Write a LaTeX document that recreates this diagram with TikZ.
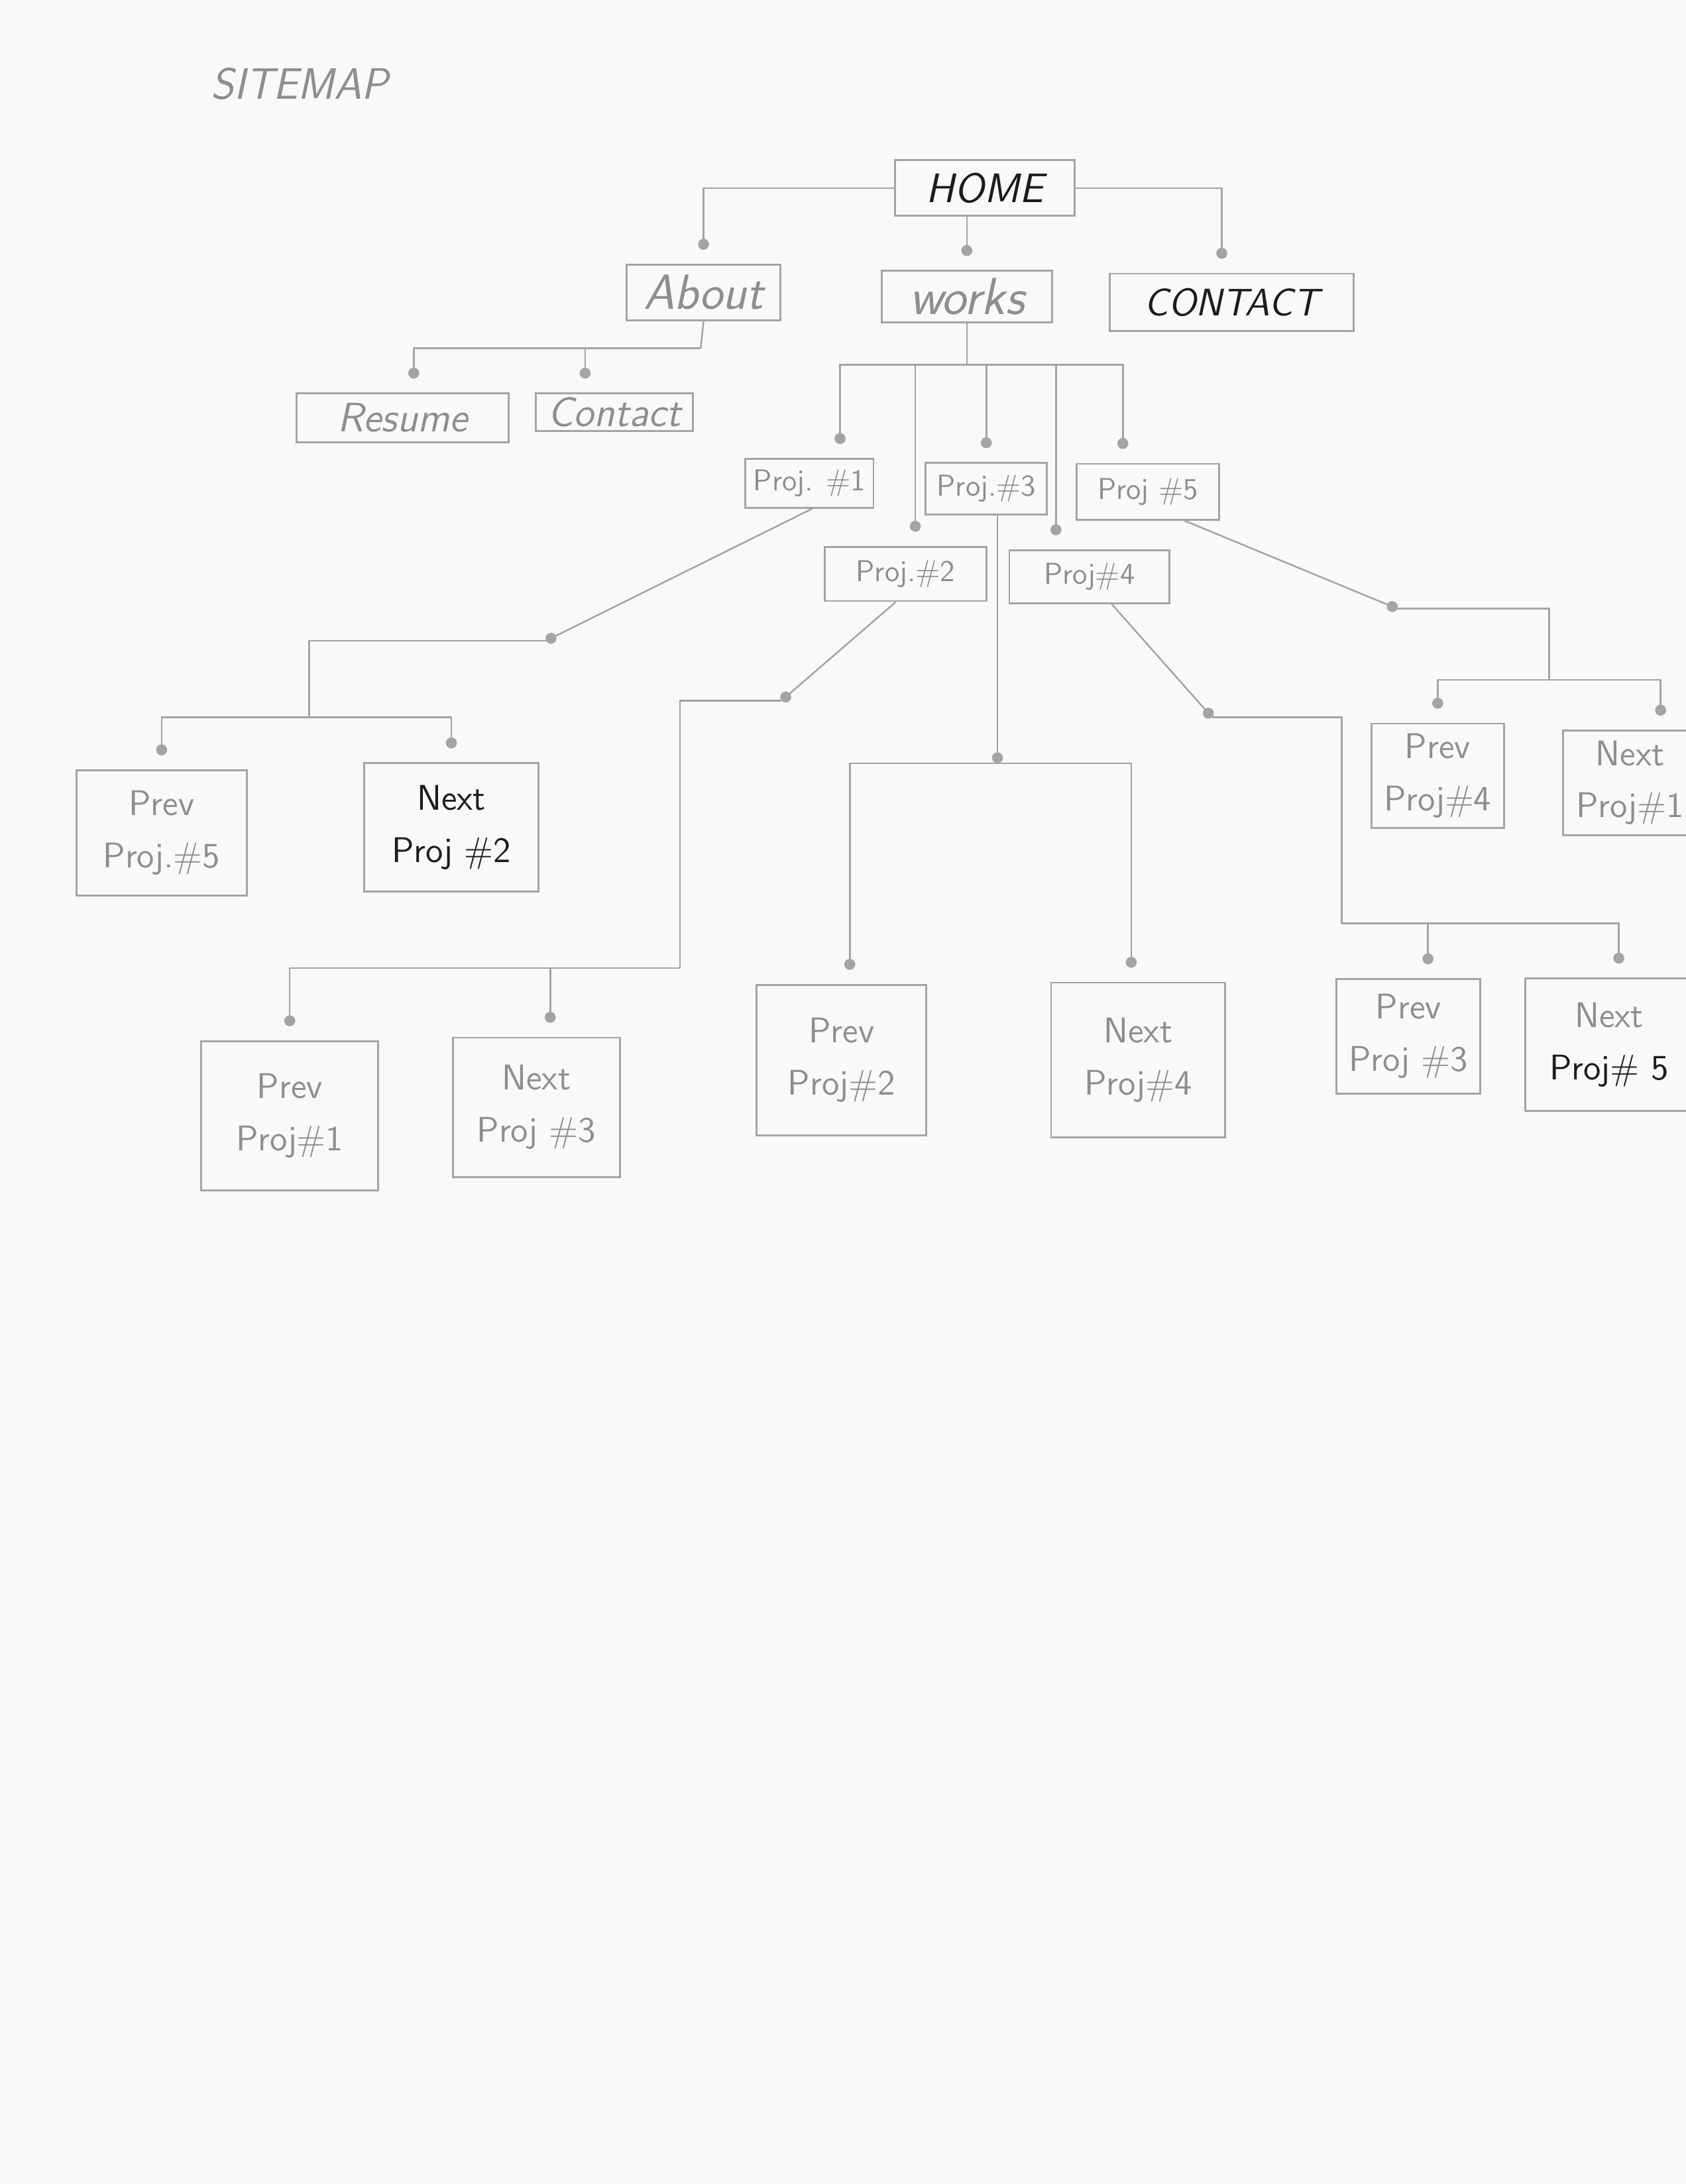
\documentclass[tikz,border=0pt]{standalone}
\usetikzlibrary{arrows.meta}
\newlength{\sk}\setlength{\sk}{0.017843cm}
\definecolor{paper}{HTML}{F9F9F9}
\definecolor{pencil}{HTML}{A4A4A4}
\definecolor{lead}{HTML}{8E8E8E}
\definecolor{ink}{HTML}{1C1C1C}

\begin{document}
\begin{tikzpicture}[x=\sk, y=-\sk,
  wh/.style 2 args={minimum width=#1\sk, minimum height=#2\sk},
  box/.style={draw=pencil, line width=0.7pt, text=lead, inner sep=0pt, align=center,
    font=\sffamily\fontsize{11}{13}\selectfont},
  top/.style={box, font=\sffamily\slshape\fontsize{#1}{#1}\selectfont},
  page/.style={box, font=\sffamily\fontsize{13}{19}\selectfont},
  line/.style={draw=pencil, line width=0.6pt},
  dot/.style={line, -{Circle[length=4pt]}},
  link/.style={dot, shorten >=10\sk}]
 \fill[paper] (0,0) rectangle (1210,1568);
 \useasboundingbox (0,0) rectangle (1210,1568);

 \node[text=lead, font=\sffamily\slshape\fontsize{16}{16}\selectfont] (title) at (215,60) {SITEMAP};

 % top level
 \node[top=15, wh={129}{40}, text=ink] (home) at (707,135) {HOME};
 \node[top=18, wh={110}{40}] (about) at (505,210) {About};
 \node[top=19, wh={122}{37}] (works) at (694,213) {works};
 \node[top=14, wh={175}{41}, text=ink] (contact) at (884,217) {CONTACT};
 \node[top=15, wh={152}{35}] (resume) at (289,300) {Resume};
 \node[top=15, wh={113}{27}] (reach) at (441,296) {Contact};

 % projects
 \node[box, wh={92}{35}] (p1) at (581,347) {Proj. \#1};
 \node[box, wh={87}{37}] (p3) at (708,351) {Proj.\#3};
 \node[box, wh={102}{40}] (p5) at (824,353) {Proj \#5};
 \node[box, wh={116}{39}] (p2) at (650,412) {Proj.\#2};
 \node[box, wh={115}{38}] (p4) at (782,414) {Proj\#4};

 % prev / next pages
 \node[page, wh={122}{90}] (prev5) at (116,598) {Prev\\Proj.\#5};
 \node[page, wh={125}{92}, text=ink] (next2) at (324,594) {Next\\Proj \#2};
 \node[page, wh={127}{107}] (prev1) at (208,801) {Prev\\Proj\#1};
 \node[page, wh={120}{100}] (next3) at (385,795) {Next\\Proj \#3};
 \node[page, wh={122}{108}] (prev2) at (604,761) {Prev\\Proj\#2};
 \node[page, wh={125}{111}] (next4) at (817,761) {Next\\Proj\#4};
 \node[page, wh={95}{75}] (prev4) at (1032,557) {Prev\\Proj\#4};
 \node[page, wh={96}{75}] (next1) at (1170,562) {Next\\Proj\#1};
 \node[page, wh={103}{82}] (prev3) at (1011,744) {Prev\\Proj \#3};
 \node[page, wh={120}{95}] (next5) at (1155,750) {Next\\\textcolor{ink}{Proj\# 5}};

 % junctions
 \coordinate (ja) at (503,250);
 \coordinate (wbus) at (688,262);
 \coordinate (j1) at (392,460);
 \coordinate (b1) at (222,515);
 \coordinate (j2) at (561,503);
 \coordinate (b2) at (488,695);
 \coordinate (j3) at (716,548);
 \coordinate (j4) at (870,515);
 \coordinate (b4) at (963,663);
 \coordinate (j5) at (1003,437);
 \coordinate (b5) at (1112,488);

 \draw[link] (home.west) -| (about.north);
 \draw[link] (works.north |- home.south) -- (works.north);
 \draw[link] (home.east) -| ([xshift=-7\sk]contact.north);

 \draw[line] (about.south) -- (ja);
 \draw[link] (ja) -| ([xshift=8\sk]resume.north);
 \draw[link] (ja) -| ([xshift=-21\sk]reach.north);

 \draw[line] (works.south) -- (works.south |- wbus);
 \draw[link] (wbus) -| ([xshift=22\sk]p1.north);
 \draw[link] (wbus) -| ([xshift=7\sk]p2.north);
 \draw[link] (wbus) -| (p3.north);
 \draw[link] (wbus) -| ([xshift=-24\sk]p4.north);
 \draw[link] (wbus) -| ([xshift=-18\sk]p5.north);

 \draw[dot] ([xshift=2\sk]p1.south) -- (j1);
 \draw[line] (j1) -| (b1);
 \draw[link] (b1) -| (prev5.north);
 \draw[link] (b1) -| (next2.north);

 \draw[dot] ([xshift=-7\sk]p2.south) -- (j2);
 \draw[line] (j2) -| (b2);
 \draw[link] (b2) -| (prev1.north);
 \draw[link] (b2) -| ([xshift=10\sk]next3.north);

 \draw[dot] ([xshift=8\sk]p3.south) -- (j3);
 \draw[link] (j3) -| ([xshift=6\sk]prev2.north);
 \draw[link] (j3) -| ([xshift=-5\sk]next4.north);

 \draw[dot] ([xshift=16\sk]p4.south) -- (j4);
 \draw[line] (j4) -| (b4);
 \draw[link] (b4) -| ([xshift=14\sk]prev3.north);
 \draw[link] (b4) -| ([xshift=7\sk]next5.north);

 \draw[dot] ([xshift=26\sk]p5.south) -- (j5);
 \draw[line] (j5) -| (b5);
 \draw[link] (b5) -| (prev4.north);
 \draw[link] (b5) -| ([xshift=22\sk]next1.north);
\end{tikzpicture}
\end{document}
